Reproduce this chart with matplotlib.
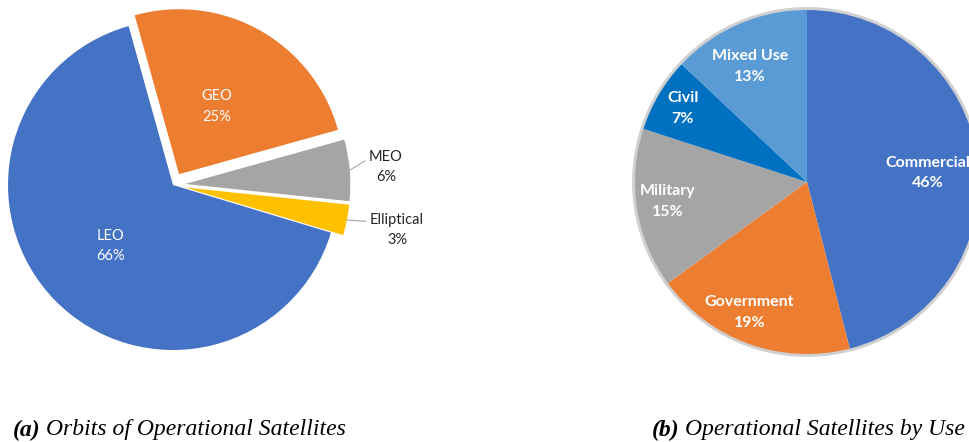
import numpy as np
import matplotlib.pyplot as plt
from matplotlib.patches import Circle

# orbit data (left pie)
orbit_names = ["GEO", "MEO", "Elliptical", "LEO"]
orbit_pct = [25, 6, 3, 66]
orbit_colors = ["#ED7D31", "#A5A5A5", "#FFC000", "#4472C4"]
orbit_explode = [0.075, 0.075, 0.075, 0]

# use data (right pie)
use_names = ["Commercial", "Government", "Military", "Civil", "Mixed Use"]
use_pct = [46, 19, 15, 7, 13]
use_colors = ["#4472C4", "#ED7D31", "#A5A5A5", "#0070C0", "#5B9BD5"]

W, H = 969, 442
fig = plt.figure(figsize=(W / 100, H / 100), dpi=100)
ax = fig.add_axes([0, 0, 1, 1])

# ---- left pie (axes units are pixels)
c1 = (173, H - 185)
r1 = 165
wedges1, _ = ax.pie(orbit_pct, colors=orbit_colors,
                    explode=[e * r1 for e in orbit_explode],
                    startangle=105.6, counterclock=False, center=c1, radius=r1,
                    wedgeprops=dict(linewidth=0), frame=True)

lab_dist1 = [0.47, 1.22, 1.31, 0.53]
inside1 = [True, False, False, True]
for w, name, p, d, ins in zip(wedges1, orbit_names, orbit_pct, lab_dist1, inside1):
    th = np.deg2rad((w.theta1 + w.theta2) / 2)
    cx, cy = w.center
    tx, ty = cx + d * r1 * np.cos(th), cy + d * r1 * np.sin(th)
    txt = f"{name}\n{p}%"
    if ins:
        ax.text(tx, ty, txt, color="white", ha="center", va="center",
                fontsize=10.5, family="Lato", linespacing=1.6)
    else:
        ex, ey = cx + r1 * np.cos(th), cy + r1 * np.sin(th)
        ax.annotate(txt, xy=(ex, ey), xytext=(tx, ty), color="#262626",
                    ha="center", va="center", fontsize=10.5, family="Lato",
                    linespacing=1.6,
                    arrowprops=dict(arrowstyle="-", color="#A6A6A6", lw=0.8,
                                    relpos=(0, 0.75), shrinkA=1, shrinkB=0))

# ---- right pie
c2 = (807, H - 182)
r2 = 172
ax.add_patch(Circle(c2, r2 + 1.2, facecolor="none", edgecolor="#D0D0D0", lw=2.5, zorder=0))
wedges2, _ = ax.pie(use_pct, colors=use_colors, startangle=90, counterclock=False,
                    center=c2, radius=r2, wedgeprops=dict(linewidth=0), frame=True)
lab_dist2 = [0.705, 0.83, 0.816, 0.84, 0.75]
lab_turn2 = [-3, -4, -1, 0, 3]
for w, name, p, d, dt in zip(wedges2, use_names, use_pct, lab_dist2, lab_turn2):
    th = np.deg2rad((w.theta1 + w.theta2) / 2 + dt)
    tx, ty = c2[0] + d * r2 * np.cos(th), c2[1] + d * r2 * np.sin(th)
    ax.text(tx, ty, f"{name}\n{p}%", color="white", ha="center", va="center",
            fontsize=11.5, family="Lato", fontweight="bold", linespacing=1.6)

ax.set_xlim(0, W)
ax.set_ylim(0, H)
ax.set_aspect("equal")
ax.axis("off")

# captions: bold-italic tag followed by italic text
fig.canvas.draw()
r = fig.canvas.get_renderer()
for x0, tag, cap in [(13, "(a)", "Orbits of Operational Satellites"),
                     (652, "(b)", "Operational Satellites by Use")]:
    t = fig.text(x0 / W, 1 - 430 / H, tag, fontsize=17, family="Liberation Serif",
                 style="italic", fontweight="bold", va="center")
    bb = t.get_window_extent(r)
    fig.text((bb.x1 + 5) / W, 1 - 430 / H, cap, fontsize=17, family="Liberation Serif",
             style="italic", va="center")

fig.savefig("out.png", dpi=100)
